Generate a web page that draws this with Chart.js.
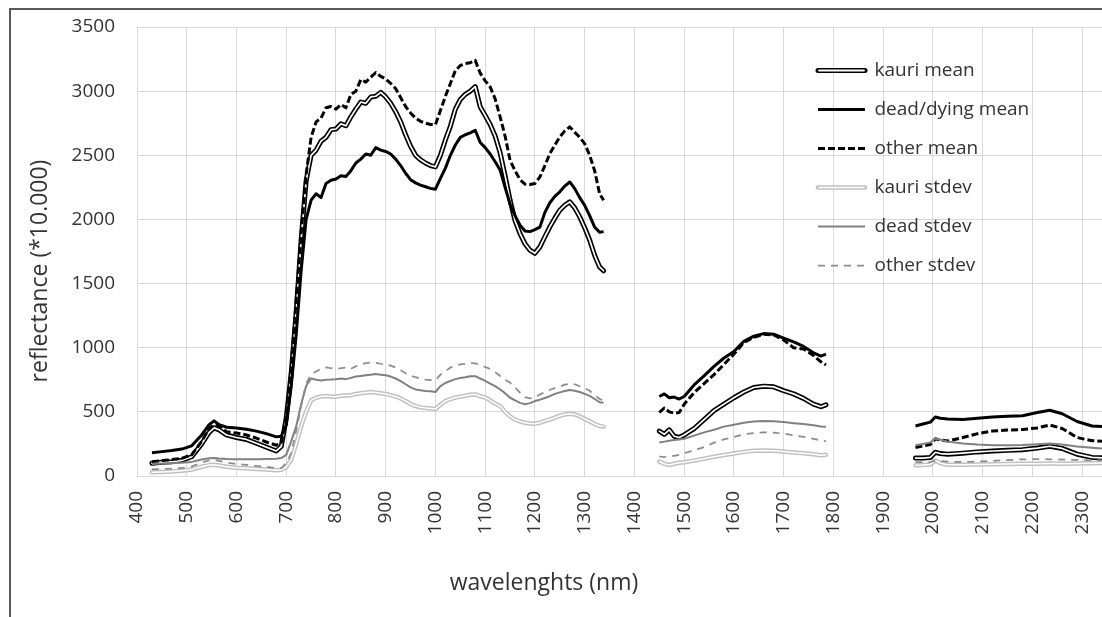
<!doctype html>
<html>
<head>
  <meta charset="utf-8">
  <script src="https://cdn.jsdelivr.net/npm/chart.js"></script>
  <style>
    html, body { margin: 0; padding: 0; background: #fff; }
    #wrap { width: 1102px; height: 617px; }
  </style>
</head>
<body>
  <div id="wrap"><canvas id="spectra" width="1102" height="617"></canvas></div>
  <script>
    // wavelengths (nm); 1390 and 1870 are the water-band gaps
    var wavelengths = [430, 450, 470, 490, 510, 530, 545, 555, 565, 580, 600, 620, 640, 660, 680, 690,
      700, 710, 720, 730, 740, 750, 760, 770, 780, 790, 800, 810, 820, 830, 840, 850, 860, 870, 880, 890,
      900, 910, 920, 930, 940, 950, 960, 970, 980, 990, 1000, 1010, 1020, 1030, 1040, 1050, 1060, 1070, 1080, 1090,
      1100, 1110, 1120, 1130, 1140, 1150, 1160, 1170, 1180, 1190, 1200, 1210, 1220, 1230, 1240, 1250, 1260, 1270, 1280, 1290,
      1300, 1310, 1320, 1330, 1338,
      1390,
      1450, 1460, 1470, 1480, 1490, 1500, 1520, 1540, 1560, 1580, 1600, 1620, 1640, 1660, 1680, 1700, 1720, 1740, 1760, 1775, 1785,
      1870,
      1965, 1980, 1995, 2005, 2015, 2030, 2060, 2090, 2120, 2150, 2180, 2210, 2235, 2260, 2290, 2320, 2340];

    var kauriMean = [100, 108, 112, 122, 150, 250, 340, 375, 360, 320, 300, 285, 255, 225, 195, 230,
      450, 800, 1270, 1840, 2300, 2500, 2540, 2610, 2640, 2700, 2705, 2745, 2730, 2800, 2860, 2915, 2905, 2955, 2960, 2990,
      2955, 2905, 2840, 2760, 2660, 2570, 2500, 2465, 2440, 2420, 2410, 2500, 2620, 2726, 2860, 2935, 2975, 3000, 3035, 2877,
      2810, 2740, 2650, 2520, 2340, 2150, 1990, 1890, 1810, 1760, 1736, 1786, 1865, 1942, 2010, 2072, 2110, 2137, 2090, 2020,
      1935, 1840, 1720, 1630, 1600,
      null,
      350, 325, 360, 310, 300, 320, 370, 440, 510, 560, 610, 655, 690, 700, 695, 665, 640, 605, 560, 540, 555,
      null,
      140, 140, 145, 185, 175, 170, 178, 188, 195, 200, 205, 218, 232, 215, 170, 145, 142];

    var deadMean = [182, 190, 198, 210, 235, 320, 400, 430, 400, 380, 375, 365, 350, 330, 305, 310,
      400, 700, 1100, 1600, 2000, 2150, 2200, 2170, 2280, 2305, 2315, 2340, 2335, 2380, 2440, 2470, 2510, 2500, 2560, 2540,
      2530, 2510, 2470, 2420, 2360, 2310, 2285, 2268, 2255, 2242, 2236, 2320, 2400, 2500, 2580, 2640, 2660, 2675, 2695, 2600,
      2560, 2510, 2450, 2385, 2250, 2120, 2030, 1955, 1910, 1905, 1920, 1940, 2055, 2130, 2180, 2215, 2260, 2292, 2240, 2170,
      2110, 2030, 1940, 1900, 1905,
      null,
      620, 640, 610, 615, 600, 620, 710, 780, 855, 920, 970, 1050, 1090, 1110, 1105, 1075, 1045, 1010, 960, 935, 950,
      null,
      390, 405, 420, 460, 450, 445, 440, 450, 460, 465, 470, 495, 512, 485, 425, 390, 385];

    var otherMean = [112, 120, 128, 138, 165, 270, 370, 400, 390, 345, 335, 320, 295, 265, 240, 260,
      450, 850, 1370, 1890, 2350, 2640, 2760, 2790, 2870, 2880, 2860, 2895, 2870, 2975, 3000, 3090, 3070, 3110, 3145, 3115,
      3095, 3060, 3020, 2950, 2880, 2830, 2790, 2765, 2750, 2740, 2739, 2850, 2960, 3060, 3160, 3200, 3215, 3222, 3240, 3140,
      3080, 3033, 2940, 2800, 2650, 2461, 2380, 2310, 2275, 2272, 2280, 2331, 2420, 2513, 2580, 2643, 2690, 2721, 2680, 2640,
      2591, 2500, 2380, 2200, 2150,
      null,
      495, 530, 500, 490, 495, 560, 650, 720, 790, 870, 950, 1040, 1080, 1105, 1100, 1060, 1000, 990, 940, 890, 865,
      null,
      221, 235, 245, 290, 280, 272, 300, 330, 350, 358, 362, 375, 398, 370, 300, 275, 270];

    var kauriStdev = [29, 32, 36, 40, 50, 72, 85, 88, 82, 72, 65, 60, 55, 50, 45, 48,
      70, 126, 250, 387, 500, 590, 610, 620, 623, 620, 618, 625, 628, 630, 640, 645, 650, 655, 650, 645,
      640, 630, 620, 605, 585, 561, 545, 535, 530, 527, 522, 555, 585, 600, 612, 618, 625, 633, 636, 622,
      612, 590, 565, 545, 500, 465, 440, 425, 415, 410, 408, 415, 430, 440, 455, 470, 480, 485, 480, 465,
      445, 427, 405, 390, 385,
      null,
      113, 95, 86, 95, 103, 107, 120, 135, 150, 163, 175, 188, 197, 198, 196, 191, 184, 178, 170, 162, 165,
      null,
      83, 85, 90, 120, 100, 88, 88, 90, 91, 93, 95, 96, 97, 96, 97, 100, 102];

    var deadStdev = [94, 97, 100, 104, 110, 128, 138, 140, 136, 132, 131, 131, 131, 132, 134, 140,
      165, 270, 387, 560, 702, 760, 750, 745, 750, 752, 755, 760, 755, 765, 775, 780, 785, 790, 795, 790,
      785, 775, 760, 740, 715, 691, 675, 668, 662, 660, 655, 700, 725, 741, 755, 764, 770, 778, 778, 760,
      741, 720, 700, 675, 645, 610, 590, 570, 560, 568, 584, 595, 608, 623, 640, 652, 662, 670, 665, 655,
      640, 625, 600, 575, 570,
      null,
      262, 268, 275, 280, 285, 290, 315, 340, 360, 385, 400, 415, 425, 428, 427, 420, 412, 405, 395, 385, 383,
      null,
      240, 250, 262, 292, 282, 268, 253, 245, 240, 240, 242, 248, 253, 245, 230, 220, 214];

    var otherStdev = [52, 55, 58, 62, 75, 105, 122, 126, 118, 104, 94, 86, 78, 72, 60, 62,
      100, 178, 350, 545, 720, 793, 815, 835, 846, 840, 835, 840, 846, 835, 855, 870, 880, 885, 882, 875,
      870, 860, 845, 825, 800, 783, 770, 760, 752, 748, 745, 790, 815, 846, 860, 870, 875, 880, 878, 865,
      850, 835, 810, 780, 750, 728, 690, 650, 615, 605, 612, 636, 655, 672, 685, 696, 712, 720, 715, 700,
      685, 665, 630, 600, 590,
      null,
      152, 148, 155, 157, 165, 178, 200, 225, 260, 285, 305, 325, 335, 340, 338, 330, 318, 305, 290, 275, 271,
      null,
      109, 108, 109, 118, 117, 112, 109, 112, 118, 124, 130, 132, 130, 128, 125, 122, 122];

    var seriesNames = ['kauri mean', 'dead/dying mean', 'other mean', 'kauri stdev', 'dead stdev', 'other stdev'];
    var xTicksStep = 100;
    var yTicksStep = 500;

    function toPoints(vals) {
      return wavelengths.map(function (w, i) { return { x: w, y: vals[i] }; });
    }

    var textColor = '#333333';
    var FONT = "'Open Sans', 'Liberation Sans', sans-serif";

    // frame of the chart object, the two axis titles, white core of legend double lines
    var frameAndTitles = {
      id: 'frameAndTitles',
      beforeDraw: function (chart) {
        var ctx = chart.ctx;
        ctx.save();
        ctx.fillStyle = '#fff';
        ctx.fillRect(0, 0, chart.width, chart.height);
        ctx.strokeStyle = '#595959';
        ctx.lineWidth = 2;
        ctx.strokeRect(10, 9, 1200, 700);
        ctx.restore();
      },
      afterDraw: function (chart) {
        var ctx = chart.ctx;
        ctx.save();
        ctx.fillStyle = textColor;
        ctx.font = '23px ' + FONT;
        ctx.textAlign = 'center';
        ctx.textBaseline = 'middle';
        ctx.fillText('wavelenghts (nm)', 544, 583);
        ctx.translate(40, 271);
        ctx.rotate(-Math.PI / 2);
        ctx.fillText('reflectance (*10.000)', 0, 0);
        ctx.restore();

        var lg = chart.legend;
        ctx.save();
        ctx.strokeStyle = '#fff';
        ctx.lineCap = 'round';
        [[0, 1.8], [3, 1.6]].forEach(function (r) {
          var y = lg.top + 20 + r[0] * 39 + 9.5;
          ctx.lineWidth = r[1];
          ctx.beginPath();
          ctx.moveTo(lg.left + 20 + 1, y);
          ctx.lineTo(lg.left + 20 + 46, y);
          ctx.stroke();
        });
        ctx.restore();
      },
      afterLayout: function (chart) {
        var lg = chart.legend;
        lg.left = 798;
        lg.top = 41;
        lg.right = 1090;
        lg.bottom = 460;
      }
    };

    var datasets = [
      { label: seriesNames[0], data: toPoints(kauriMean), borderColor: '#000', borderWidth: 5, borderCapStyle: 'round', order: 12 },
      { label: '_kauriMeanCore', inner: true, data: toPoints(kauriMean), borderColor: '#fff', borderWidth: 1.7, borderCapStyle: 'round', order: 11 },
      { label: seriesNames[1], data: toPoints(deadMean), borderColor: '#000', borderWidth: 3, order: 10 },
      { label: seriesNames[2], data: toPoints(otherMean), borderColor: '#000', borderWidth: 3, borderDash: [7, 3], order: 9 },
      { label: seriesNames[3], data: toPoints(kauriStdev), borderColor: '#c0c0c0', borderWidth: 4.5, borderCapStyle: 'round', order: 8 },
      { label: '_kauriStdevCore', inner: true, data: toPoints(kauriStdev), borderColor: '#fff', borderWidth: 1.5, borderCapStyle: 'round', order: 7 },
      { label: seriesNames[4], data: toPoints(deadStdev), borderColor: '#808080', borderWidth: 2, order: 6 },
      { label: seriesNames[5], data: toPoints(otherStdev), borderColor: '#8c8c8c', borderWidth: 1.75, borderDash: [7, 6], order: 5 }
    ];
    datasets.forEach(function (d) {
      d.pointRadius = 0;
      d.pointHoverRadius = 0;
      d.tension = 0;
      d.spanGaps = false;
      d.fill = false;
      d.borderJoinStyle = 'round';
    });

    new Chart(document.getElementById('spectra'), {
      type: 'line',
      data: { datasets: datasets },
      plugins: [frameAndTitles],
      options: {
        responsive: false,
        animation: false,
        devicePixelRatio: 1,
        layout: { padding: { left: 0, top: 27, right: 0, bottom: 0 } },
        plugins: {
          tooltip: { enabled: false },
          legend: {
            position: 'chartArea',
            fullSize: false,
            align: 'start',
            labels: {
              usePointStyle: true,
              pointStyle: 'line',
              pointStyleWidth: 47,
              padding: 20,
              color: textColor,
              font: { family: FONT, size: 19 },
              generateLabels: function (chart) {
                return chart.data.datasets.map(function (d, i) {
                  return {
                    text: d.label,
                    datasetIndex: i,
                    fillStyle: d.borderColor,
                    strokeStyle: d.borderColor,
                    lineWidth: d.borderWidth,
                    lineDash: d.borderDash || [],
                    lineCap: d.borderCapStyle || 'butt',
                    pointStyle: 'line',
                    fontColor: textColor,
                    hidden: false
                  };
                });
              },
              filter: function (item, data) { return !data.datasets[item.datasetIndex].inner; },
              sort: function (a, b) { return a.datasetIndex - b.datasetIndex; }
            }
          }
        },
        scales: {
          x: {
            type: 'linear',
            min: 400,
            max: 2340,
            afterFit: function (scale) { scale.height = 141; },
            ticks: {
              stepSize: xTicksStep,
              includeBounds: false,
              autoSkip: false,
              minRotation: 90,
              maxRotation: 90,
              padding: 0,
              color: textColor,
              font: { family: FONT, size: 19, lineHeight: 1 },
              callback: function (v) { return String(Math.round(v)); }
            },
            grid: { color: '#d9d9d9', lineWidth: 1, drawTicks: true, tickLength: 15, tickColor: 'rgba(0,0,0,0)' },
            border: { color: '#d9d9d9' }
          },
          y: {
            min: 0,
            max: 3500,
            afterFit: function (scale) { scale.width = 137; },
            ticks: {
              stepSize: yTicksStep,
              padding: 0,
              color: textColor,
              font: { family: FONT, size: 19 },
              callback: function (v) { return String(v); }
            },
            grid: { color: '#d9d9d9', lineWidth: 1, drawTicks: true, tickLength: 22, tickColor: 'rgba(0,0,0,0)' },
            border: { color: '#d9d9d9' }
          }
        }
      }
    });
  </script>
</body>
</html>
